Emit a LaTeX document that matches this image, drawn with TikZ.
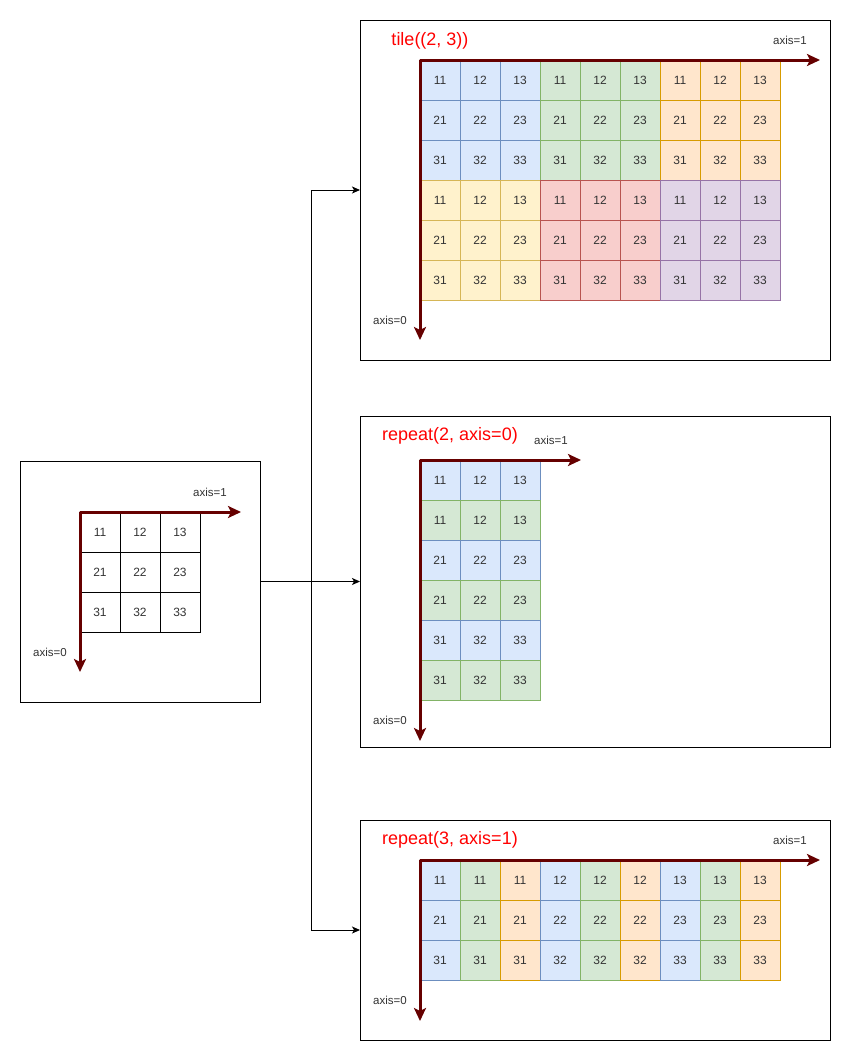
\documentclass[tikz,border=0pt]{standalone}
\usepackage{fontspec}
\setmainfont{Liberation Sans}
\usetikzlibrary{arrows.meta,positioning}

\definecolor{axisred}{HTML}{660000}
\definecolor{fblue}{HTML}{DAE8FC}\definecolor{sblue}{HTML}{6C8EBF}
\definecolor{fgreen}{HTML}{D5E8D4}\definecolor{sgreen}{HTML}{82B366}
\definecolor{forange}{HTML}{FFE6CC}\definecolor{sorange}{HTML}{D79B00}
\definecolor{fyellow}{HTML}{FFF2CC}\definecolor{syellow}{HTML}{D6B656}
\definecolor{fred}{HTML}{F8CECC}\definecolor{sred}{HTML}{B85450}
\definecolor{fpurple}{HTML}{E1D5E7}\definecolor{spurple}{HTML}{9673A6}

\tikzset{
  cell/.style={draw,line width=0.8pt,minimum size=40pt,inner sep=0pt,outer sep=0pt,
    text=black!80,font=\fontsize{12}{14}\selectfont},
  cellplain/.style={cell,draw=black,fill=white},
  cellblue/.style={cell,draw=sblue,fill=fblue},
  cellgreen/.style={cell,draw=sgreen,fill=fgreen},
  cellorange/.style={cell,draw=sorange,fill=forange},
  cellyellow/.style={cell,draw=syellow,fill=fyellow},
  cellred/.style={cell,draw=sred,fill=fred},
  cellpurple/.style={cell,draw=spurple,fill=fpurple},
  panel/.style={draw=black,line width=1pt,fill=white,inner sep=0pt,outer sep=0pt},
  axisline/.style={draw=axisred,line width=3pt,line join=round,
    arrows={Stealth[length=13pt,width=12pt,inset=3pt]-Stealth[length=13pt,width=12pt,inset=3pt]}},
  axislabel/.style={text=black!80,font=\fontsize{11.5}{13}\selectfont,inner sep=0pt},
  optitle/.style={text=red,font=\fontsize{18}{21}\selectfont,inner sep=0pt},
  link/.style={draw=black,line width=1pt,-{Stealth[length=8pt,width=7pt,inset=2pt]}}
}

\begin{document}
\begin{tikzpicture}[x=1pt,y=-1pt]
  \useasboundingbox (0,0) rectangle (861,1061);

  % panels
  \node[panel,minimum width=240pt,minimum height=241pt] (srcbox) at (140,581.5) {};
  \node[panel,minimum width=470pt,minimum height=340pt] (tilebox) at (595,190) {};
  \node[panel,minimum width=470pt,minimum height=331pt] (rep0box) at (595,581.5) {};
  \node[panel,minimum width=470pt,minimum height=220pt] (rep1box) at (595,930) {};

  % connectors
  \coordinate (split) at (311,581.5);
  \draw[link] (srcbox.east) -- (split) |- (tilebox.west);
  \draw[link] (srcbox.east) -- (rep0box.west);
  \draw[link] (srcbox.east) -- (split) |- (rep1box.west);

  % source array
  \node[cellplain] (S-1-1) at (100,532) {11};
  \node[cellplain] (S-1-2) at (140,532) {12};
  \node[cellplain] (S-1-3) at (180,532) {13};
  \node[cellplain] (S-2-1) at (100,572) {21};
  \node[cellplain] (S-2-2) at (140,572) {22};
  \node[cellplain] (S-2-3) at (180,572) {23};
  \node[cellplain] (S-3-1) at (100,612) {31};
  \node[cellplain] (S-3-2) at (140,612) {32};
  \node[cellplain] (S-3-3) at (180,612) {33};
  \coordinate (S-o) at (80,512);
  \coordinate (S-a0) at (80,672);
  \coordinate (S-a1) at (241,512);
  \draw[axisline] (S-a0) -- (S-o) -- (S-a1);
  \node[axislabel] (S-l1) at (210,492) {axis=1};
  \node[axislabel] (S-l0) at (50,652) {axis=0};

  % tile((2, 3))
  \node[optitle] (T-title) at (430,41) {tile((2, 3))};
  \node[cellblue] (T-1-1) at (440,80) {11};
  \node[cellblue] (T-1-2) at (480,80) {12};
  \node[cellblue] (T-1-3) at (520,80) {13};
  \node[cellgreen] (T-1-4) at (560,80) {11};
  \node[cellgreen] (T-1-5) at (600,80) {12};
  \node[cellgreen] (T-1-6) at (640,80) {13};
  \node[cellorange] (T-1-7) at (680,80) {11};
  \node[cellorange] (T-1-8) at (720,80) {12};
  \node[cellorange] (T-1-9) at (760,80) {13};
  \node[cellblue] (T-2-1) at (440,120) {21};
  \node[cellblue] (T-2-2) at (480,120) {22};
  \node[cellblue] (T-2-3) at (520,120) {23};
  \node[cellgreen] (T-2-4) at (560,120) {21};
  \node[cellgreen] (T-2-5) at (600,120) {22};
  \node[cellgreen] (T-2-6) at (640,120) {23};
  \node[cellorange] (T-2-7) at (680,120) {21};
  \node[cellorange] (T-2-8) at (720,120) {22};
  \node[cellorange] (T-2-9) at (760,120) {23};
  \node[cellblue] (T-3-1) at (440,160) {31};
  \node[cellblue] (T-3-2) at (480,160) {32};
  \node[cellblue] (T-3-3) at (520,160) {33};
  \node[cellgreen] (T-3-4) at (560,160) {31};
  \node[cellgreen] (T-3-5) at (600,160) {32};
  \node[cellgreen] (T-3-6) at (640,160) {33};
  \node[cellorange] (T-3-7) at (680,160) {31};
  \node[cellorange] (T-3-8) at (720,160) {32};
  \node[cellorange] (T-3-9) at (760,160) {33};
  \node[cellyellow] (T-4-1) at (440,200) {11};
  \node[cellyellow] (T-4-2) at (480,200) {12};
  \node[cellyellow] (T-4-3) at (520,200) {13};
  \node[cellred] (T-4-4) at (560,200) {11};
  \node[cellred] (T-4-5) at (600,200) {12};
  \node[cellred] (T-4-6) at (640,200) {13};
  \node[cellpurple] (T-4-7) at (680,200) {11};
  \node[cellpurple] (T-4-8) at (720,200) {12};
  \node[cellpurple] (T-4-9) at (760,200) {13};
  \node[cellyellow] (T-5-1) at (440,240) {21};
  \node[cellyellow] (T-5-2) at (480,240) {22};
  \node[cellyellow] (T-5-3) at (520,240) {23};
  \node[cellred] (T-5-4) at (560,240) {21};
  \node[cellred] (T-5-5) at (600,240) {22};
  \node[cellred] (T-5-6) at (640,240) {23};
  \node[cellpurple] (T-5-7) at (680,240) {21};
  \node[cellpurple] (T-5-8) at (720,240) {22};
  \node[cellpurple] (T-5-9) at (760,240) {23};
  \node[cellyellow] (T-6-1) at (440,280) {31};
  \node[cellyellow] (T-6-2) at (480,280) {32};
  \node[cellyellow] (T-6-3) at (520,280) {33};
  \node[cellred] (T-6-4) at (560,280) {31};
  \node[cellred] (T-6-5) at (600,280) {32};
  \node[cellred] (T-6-6) at (640,280) {33};
  \node[cellpurple] (T-6-7) at (680,280) {31};
  \node[cellpurple] (T-6-8) at (720,280) {32};
  \node[cellpurple] (T-6-9) at (760,280) {33};
  \coordinate (T-o) at (420,60);
  \coordinate (T-a0) at (420,340);
  \coordinate (T-a1) at (820,60);
  \draw[axisline] (T-a0) -- (T-o) -- (T-a1);
  \node[axislabel] (T-l1) at (790,40) {axis=1};
  \node[axislabel] (T-l0) at (390,320) {axis=0};

  % repeat(2, axis=0)
  \node[optitle] (R0-title) at (450,436) {repeat(2, axis=0)};
  \node[cellblue] (R0-1-1) at (440,480) {11};
  \node[cellblue] (R0-1-2) at (480,480) {12};
  \node[cellblue] (R0-1-3) at (520,480) {13};
  \node[cellgreen] (R0-2-1) at (440,520) {11};
  \node[cellgreen] (R0-2-2) at (480,520) {12};
  \node[cellgreen] (R0-2-3) at (520,520) {13};
  \node[cellblue] (R0-3-1) at (440,560) {21};
  \node[cellblue] (R0-3-2) at (480,560) {22};
  \node[cellblue] (R0-3-3) at (520,560) {23};
  \node[cellgreen] (R0-4-1) at (440,600) {21};
  \node[cellgreen] (R0-4-2) at (480,600) {22};
  \node[cellgreen] (R0-4-3) at (520,600) {23};
  \node[cellblue] (R0-5-1) at (440,640) {31};
  \node[cellblue] (R0-5-2) at (480,640) {32};
  \node[cellblue] (R0-5-3) at (520,640) {33};
  \node[cellgreen] (R0-6-1) at (440,680) {31};
  \node[cellgreen] (R0-6-2) at (480,680) {32};
  \node[cellgreen] (R0-6-3) at (520,680) {33};
  \coordinate (R0-o) at (420,460);
  \coordinate (R0-a0) at (420,741);
  \coordinate (R0-a1) at (581,460);
  \draw[axisline] (R0-a0) -- (R0-o) -- (R0-a1);
  \node[axislabel] (R0-l1) at (551,440) {axis=1};
  \node[axislabel] (R0-l0) at (390,720) {axis=0};

  % repeat(3, axis=1)
  \node[optitle] (R1-title) at (450,840) {repeat(3, axis=1)};
  \node[cellblue] (R1-1-1) at (440,880) {11};
  \node[cellgreen] (R1-1-2) at (480,880) {11};
  \node[cellorange] (R1-1-3) at (520,880) {11};
  \node[cellblue] (R1-1-4) at (560,880) {12};
  \node[cellgreen] (R1-1-5) at (600,880) {12};
  \node[cellorange] (R1-1-6) at (640,880) {12};
  \node[cellblue] (R1-1-7) at (680,880) {13};
  \node[cellgreen] (R1-1-8) at (720,880) {13};
  \node[cellorange] (R1-1-9) at (760,880) {13};
  \node[cellblue] (R1-2-1) at (440,920) {21};
  \node[cellgreen] (R1-2-2) at (480,920) {21};
  \node[cellorange] (R1-2-3) at (520,920) {21};
  \node[cellblue] (R1-2-4) at (560,920) {22};
  \node[cellgreen] (R1-2-5) at (600,920) {22};
  \node[cellorange] (R1-2-6) at (640,920) {22};
  \node[cellblue] (R1-2-7) at (680,920) {23};
  \node[cellgreen] (R1-2-8) at (720,920) {23};
  \node[cellorange] (R1-2-9) at (760,920) {23};
  \node[cellblue] (R1-3-1) at (440,960) {31};
  \node[cellgreen] (R1-3-2) at (480,960) {31};
  \node[cellorange] (R1-3-3) at (520,960) {31};
  \node[cellblue] (R1-3-4) at (560,960) {32};
  \node[cellgreen] (R1-3-5) at (600,960) {32};
  \node[cellorange] (R1-3-6) at (640,960) {32};
  \node[cellblue] (R1-3-7) at (680,960) {33};
  \node[cellgreen] (R1-3-8) at (720,960) {33};
  \node[cellorange] (R1-3-9) at (760,960) {33};
  \coordinate (R1-o) at (420,860);
  \coordinate (R1-a0) at (420,1021);
  \coordinate (R1-a1) at (820,860);
  \draw[axisline] (R1-a0) -- (R1-o) -- (R1-a1);
  \node[axislabel] (R1-l1) at (790,840) {axis=1};
  \node[axislabel] (R1-l0) at (390,1000) {axis=0};
\end{tikzpicture}
\end{document}
